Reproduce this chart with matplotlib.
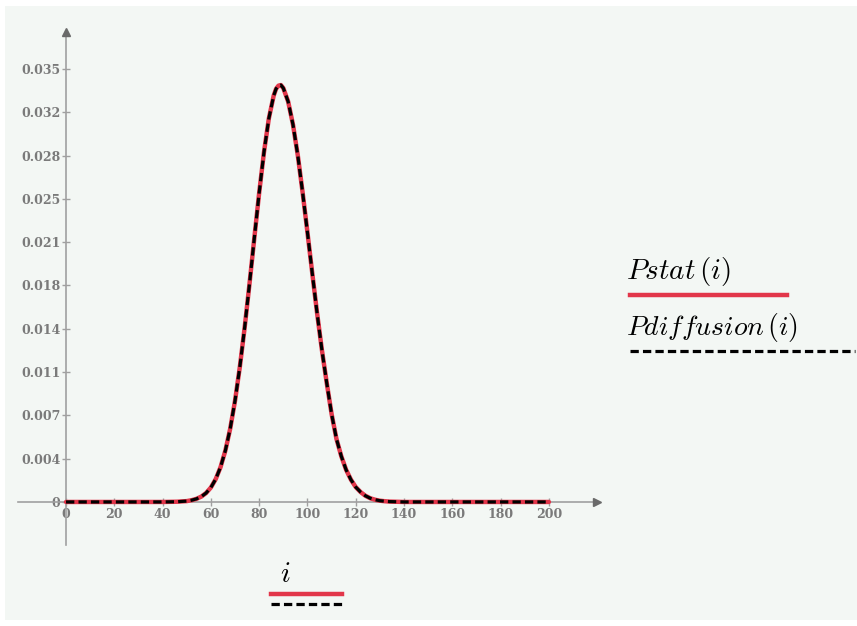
import numpy as np
import matplotlib.pyplot as plt
from matplotlib.lines import Line2D
from matplotlib.patches import Rectangle

plt.rcParams['mathtext.fontset'] = 'cm'

# значения
i_vals = [0, 10, 20, 30, 40, 46, 50, 52, 54, 56, 58, 60, 62, 64, 66, 68, 70,
          72, 74, 76, 78, 80, 82, 84, 86, 87, 88, 89, 90, 92, 94, 96, 98, 100,
          102, 104, 106, 108, 110, 112, 114, 116, 118, 120, 122, 124, 126,
          128, 130, 132, 134, 140, 150, 160, 170, 180, 190, 200]
pstat = [0, 0, 0, 0, 0, 0.00002, 0.00007, 0.00014, 0.00025, 0.00043, 0.00072,
         0.00117, 0.00185, 0.00282, 0.00416, 0.00593, 0.00819, 0.01094,
         0.01413, 0.01766, 0.02136, 0.0250, 0.0283, 0.0310, 0.03284, 0.0334,
         0.03365, 0.0337, 0.03345, 0.03236, 0.0305, 0.0280, 0.0250, 0.02177,
         0.01846, 0.01523, 0.01225, 0.00959, 0.0071, 0.0051, 0.0037, 0.0026,
         0.0018, 0.0012, 0.0008, 0.0005, 0.0003, 0.00018, 0.0001, 0.00006,
         0.00003, 0, 0, 0, 0, 0, 0, 0]
pdiffusion = [0, 0, 0, 0, 0, 0.00002, 0.00007, 0.00014, 0.00025, 0.00043,
              0.00072, 0.00117, 0.00185, 0.00282, 0.00416, 0.00593, 0.00819,
              0.01094, 0.01413, 0.01766, 0.02136, 0.0250, 0.0283, 0.0310,
              0.03284, 0.0334, 0.03365, 0.0337, 0.03345, 0.03236, 0.0305,
              0.0280, 0.0250, 0.02177, 0.01846, 0.01523, 0.01225, 0.00959,
              0.0071, 0.0051, 0.0037, 0.0026, 0.0018, 0.0012, 0.0008, 0.0005,
              0.0003, 0.00018, 0.0001, 0.00006, 0.00003, 0, 0, 0, 0, 0, 0, 0]

x_ticks = [0, 20, 40, 60, 80, 100, 120, 140, 160, 180, 200]
y_ticks = [0, 0.0035, 0.007, 0.0105, 0.014, 0.0175, 0.021, 0.0245, 0.028,
           0.0315, 0.035]
y_labels = ['0', '0.004', '0.007', '0.011', '0.014', '0.018', '0.021',
            '0.025', '0.028', '0.032', '0.035']

red = '#e2364a'
bg = '#f3f7f4'
axis_col = '#a0a0a0'
tick_col = '#7a7a7a'

fig = plt.figure(figsize=(8.57, 6.26), dpi=100)
fig.patch.set_facecolor('white')
fig.patches.append(Rectangle((5 / 857, 6 / 626), 852 / 857, 614 / 626,
                             transform=fig.transFigure, facecolor=bg,
                             edgecolor='none', zorder=-10))

ax = fig.add_axes([0.0207, 0.127, 0.6818, 0.832])
ax.set_facecolor('none')
ax.set_xlim(-20, 222)
ax.set_ylim(-0.0036, 0.0385)

ax.plot(i_vals, pstat, color=red, lw=3.2, zorder=3,
        solid_joinstyle='round', solid_capstyle='round')
ax.plot(i_vals, pdiffusion, color='black', lw=2.3, ls=(0, (2.6, 1.3)),
        zorder=4, dash_joinstyle='round')

# оси в стиле Mathcad
for s in ['top', 'right']:
    ax.spines[s].set_visible(False)
ax.spines['left'].set_position(('data', 0))
ax.spines['bottom'].set_position(('data', 0))
ax.spines['left'].set_bounds(-0.0035, 0.038)
ax.spines['bottom'].set_bounds(-20, 219)
for s in ['left', 'bottom']:
    ax.spines[s].set_color(axis_col)
    ax.spines[s].set_linewidth(1.2)
ax.plot(0, 0.038, marker='^', color='#6a6a6a', ms=6, clip_on=False, zorder=5)
ax.plot(220, 0, marker='>', color='#6a6a6a', ms=6, clip_on=False, zorder=5)

ax.set_xticks(x_ticks)
ax.set_xticklabels([str(t) for t in x_ticks])
ax.set_yticks(y_ticks)
ax.set_yticklabels(y_labels)
ax.tick_params(direction='inout', length=6, width=1, color=axis_col,
               labelcolor=tick_col, pad=1)
for lab in ax.get_xticklabels() + ax.get_yticklabels():
    lab.set_fontfamily('DejaVu Serif')
    lab.set_fontsize(9)
    lab.set_fontweight('bold')

# подписи-легенды
fig.text(285 / 857, 1 - 574 / 626, r'$i$', fontsize=21, ha='center',
         va='center')
fig.add_artist(Line2D([271 / 857, 342 / 857], [1 - 594 / 626] * 2,
                      color=red, lw=3.2))
fig.add_artist(Line2D([271 / 857, 342 / 857], [1 - 604 / 626] * 2,
                      color='black', lw=2.3, ls=(0, (2.6, 1.3))))

fig.text(626 / 857, 1 - 272 / 626, r'$Pstat\,(i)$', fontsize=21,
         ha='left', va='center')
fig.add_artist(Line2D([630 / 857, 787 / 857], [1 - 295 / 626] * 2,
                      color=red, lw=3.2))
fig.text(626 / 857, 1 - 327 / 626, r'$Pdiffusion\,(i)$', fontsize=20,
         ha='left', va='center')
fig.add_artist(Line2D([630 / 857, 855 / 857], [1 - 351 / 626] * 2,
                      color='black', lw=2.3, ls=(0, (2.6, 1.3))))

fig.savefig('out.png', dpi=100, facecolor=fig.get_facecolor())
